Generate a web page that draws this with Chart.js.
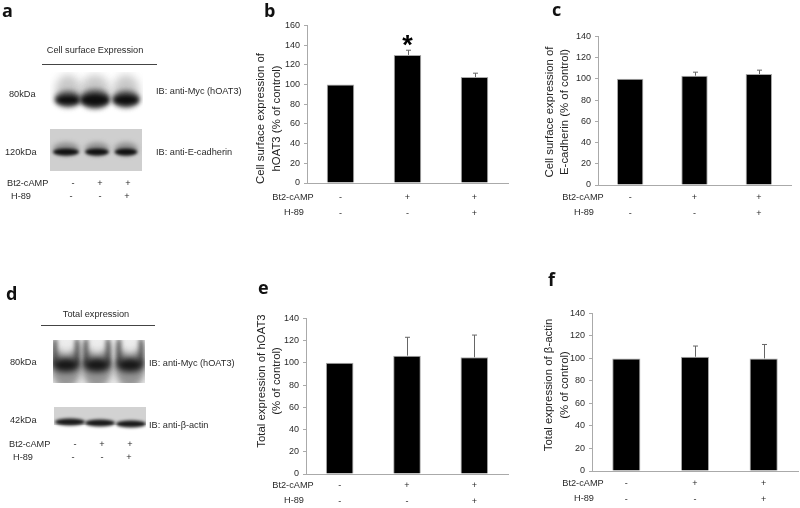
<!DOCTYPE html>
<html>
<head>
<meta charset="UTF-8">
<script src="https://cdn.jsdelivr.net/npm/chart.js@4/dist/chart.umd.js"></script>
<style>
html, body { margin: 0; padding: 0; background: #fff; }
#page { position: relative; width: 800px; height: 508px; overflow: hidden; font-family: "Liberation Sans", sans-serif; color: #2a2a2a; filter: blur(0.3px); }
#page canvas { position: absolute; }
.t { position: absolute; font-size: 9.2px; line-height: 12px; white-space: nowrap; transform: translateY(-50%); }
.c { transform: translate(-50%, -50%); }
.letter { position: absolute; font-family: "Open Sans", sans-serif; font-weight: 700; font-size: 18px; line-height: 20px; color: #111; transform: translateY(-50%); }
.rule { position: absolute; height: 1px; background: #444; }
</style>
</head>
<body>
<div id="page">
<canvas id="blots" width="260" height="508" style="left:0;top:0"></canvas>
<div class="rule" style="left:42px;top:64px;width:115px"></div>
<div class="rule" style="left:41px;top:325px;width:114px"></div>
</div>

<script>
// bar data
const bt2Row = ['-', '+', '+'];
const h89Row = ['-', '-', '+'];

const surfaceOat3 = [100, 130, 107.5];
const surfaceOat3Top = [100, 134.8, 111.5];
const surfaceCad = [100, 103, 104.5];
const surfaceCadTop = [100, 106.3, 108.2];
const totalOat3 = [100, 106.5, 105];
const totalOat3Top = [100, 123, 125];
const totalActin = [100, 101.5, 100];
const totalActinTop = [100, 111, 112.4];

const starMarks = ['', '*', ''];
const noMarks = ['', '', ''];

const page = document.getElementById('page');

// small text for the blot panels
function txt(s, x, y, centered) {
	var d = document.createElement('div');
	d.className = centered ? 't c' : 't';
	d.style.left = x + 'px';
	d.style.top = y + 'px';
	d.textContent = s;
	page.appendChild(d);
}
function letter(s, x, y) {
	var d = document.createElement('div');
	d.className = 'letter';
	d.style.left = x + 'px';
	d.style.top = y + 'px';
	d.textContent = s;
	page.appendChild(d);
}

letter('a', 2, 10);
letter('b', 264, 10);
letter('c', 552, 9);
letter('d', 6, 293);
letter('e', 258, 287);
letter('f', 548, 279);

txt('Cell surface Expression', 95, 50, true);
txt('80kDa', 9, 94);
txt('120kDa', 5, 152);
txt('IB: anti-Myc (hOAT3)', 156, 91);
txt('IB: anti-E-cadherin', 156, 152);
txt('Bt2-cAMP', 7, 183);
txt('H-89', 11, 196);
[73, 100, 128].forEach(function(x, i) { txt(bt2Row[i], x, 183, true); });
[71, 100, 127].forEach(function(x, i) { txt(h89Row[i], x, 196, true); });

txt('Total expression', 96, 314, true);
txt('80kDa', 10, 362);
txt('42kDa', 10, 420);
txt('IB: anti-Myc (hOAT3)', 149, 362.5);
txt('IB: anti-β-actin', 149, 424.5);
txt('Bt2-cAMP', 9, 444);
txt('H-89', 13, 457);
[75, 102, 130].forEach(function(x, i) { txt(bt2Row[i], x, 444, true); });
[73, 102, 129].forEach(function(x, i) { txt(h89Row[i], x, 457, true); });

// western blot images, only a rough painting of them
const b = document.getElementById('blots').getContext('2d');
function blob(cx, cy, w, h, col, blur) {
	b.save();
	b.filter = 'blur(' + blur + 'px)';
	b.fillStyle = col;
	b.beginPath();
	b.ellipse(cx, cy, w / 2, h / 2, 0, 0, Math.PI * 2);
	b.fill();
	b.restore();
}
function clipRect(x, y, w, h, fn) {
	b.save();
	b.beginPath();
	b.rect(x, y, w, h);
	b.clip();
	fn();
	b.restore();
}

clipRect(50, 72, 93, 48, function() {
	[[68, 27, 9], [95, 31, 12], [126, 28, 10]].forEach(function(l) {
		blob(l[0], 90, l[1] - 2, 30, 'rgba(110,110,110,0.38)', 4);
		blob(l[0], 99, l[1], l[2] + 8, 'rgba(60,60,60,0.75)', 2.5);
		blob(l[0], 100, l[1] - 3, l[2], 'rgba(10,10,10,0.95)', 2.2);
	});
});

b.fillStyle = '#cfcfcf';
b.fillRect(50, 129, 92, 42);
clipRect(50, 129, 92, 42, function() {
	[[66, 26, 7], [97, 24, 7], [126, 23, 7]].forEach(function(l) {
		blob(l[0], 149, l[1], 13, 'rgba(90,90,90,0.55)', 2.5);
		blob(l[0], 152, l[1], l[2], 'rgba(10,10,10,0.95)', 1.5);
	});
});

clipRect(53, 340, 92, 43, function() {
	b.fillStyle = '#ececec';
	b.fillRect(53, 340, 92, 43);
	[66, 97, 130].forEach(function(x) {
		blob(x, 368, 30, 40, 'rgba(90,90,90,0.6)', 3);
		blob(x - 11, 352, 7, 28, 'rgba(50,50,50,0.7)', 2.2);
		blob(x + 11, 352, 7, 28, 'rgba(50,50,50,0.7)', 2.2);
		blob(x, 365, 27, 14, 'rgba(15,15,15,0.95)', 3);
		blob(x, 347, 13, 14, 'rgba(240,240,240,0.75)', 3);
	});
});

clipRect(54, 407, 92, 28, function() {
	b.fillStyle = '#d2d2d2';
	b.fillRect(54, 407, 92, 18);
	blob(100, 433, 110, 12, '#ffffff', 3);
	[[70, 422], [100, 423], [131, 424]].forEach(function(l) {
		blob(l[0], l[1], 30, 7, 'rgba(15,15,15,0.95)', 1.7);
	});
});

// error bars, star, row names and y titles (the titles sit off-centre in the figure)
const extras = {
	id: 'extras',
	afterDatasetsDraw(chart, args, opts) {
		const ctx = chart.ctx, x = chart.scales.x, y = chart.scales.y;
		ctx.save();
		ctx.strokeStyle = '#666';
		ctx.lineWidth = 1;
		opts.tops.forEach(function(top, i) {
			if (top <= chart.data.datasets[0].data[i]) return;
			const px = Math.round(x.getPixelForValue(i)) + 0.5;
			ctx.beginPath();
			ctx.moveTo(px, y.getPixelForValue(chart.data.datasets[0].data[i]));
			ctx.lineTo(px, y.getPixelForValue(top));
			ctx.moveTo(px - 2.5, y.getPixelForValue(top));
			ctx.lineTo(px + 2.5, y.getPixelForValue(top));
			ctx.stroke();
		});
		ctx.fillStyle = '#000';
		ctx.textAlign = 'center';
		ctx.font = 'bold 27px "Liberation Sans"';
		opts.marks.forEach(function(m, i) {
			if (m) ctx.fillText(m, x.getPixelForValue(i), y.getPixelForValue(opts.tops[i]) + 4);
		});
		ctx.fillStyle = '#2a2a2a';
		ctx.font = '9.2px "Liberation Sans"';
		ctx.textBaseline = 'middle';
		ctx.fillText('Bt2-cAMP', x.left + opts.rowX, x.top + opts.rowY);
		ctx.fillText('H-89', x.left + opts.rowX + 1, x.top + opts.rowY + 15.5);
		ctx.fillStyle = '#222';
		ctx.font = '11.4px "Liberation Sans"';
		opts.title.forEach(function(line, i) {
			ctx.save();
			ctx.translate(opts.titleX + i * opts.titleGap, opts.titleY);
			ctx.rotate(-Math.PI / 2);
			ctx.fillText(line, 0, 0);
			ctx.restore();
		});
		ctx.restore();
	}
};

function drawBars(cfg) {
	const axisW = cfg.left - cfg.boxLeft, padTop = 8, axisH = 36;
	const c = document.createElement('canvas');
	c.width = axisW + cfg.right - cfg.left + 2;
	c.height = cfg.bottom - cfg.top + padTop + axisH;
	c.style.left = cfg.boxLeft + 'px';
	c.style.top = (cfg.top - padTop) + 'px';
	page.appendChild(c);
	return new Chart(c, {
		type: 'bar',
		data: {
			labels: bt2Row.map(function(v, i) { return [v, h89Row[i]]; }),
			datasets: [{
				data: cfg.values,
				backgroundColor: '#000',
				borderColor: '#aaa',
				borderWidth: 1,
				barPercentage: 0.41,
				categoryPercentage: 1
			}]
		},
		options: {
			responsive: false,
			animation: false,
			layout: { padding: { top: padTop, right: 2, left: 0, bottom: 0 } },
			plugins: {
				legend: { display: false },
				tooltip: { enabled: false },
				extras: {
					tops: cfg.tops, marks: cfg.marks, rowX: cfg.rowX, rowY: cfg.rowY,
					title: cfg.title,
					titleX: cfg.titleX - cfg.boxLeft,
					titleY: cfg.titleY - cfg.top + padTop,
					titleGap: cfg.titleGap
				}
			},
			scales: {
				x: {
					afterFit: function(s) { s.height = axisH; },
					grid: { display: false, drawTicks: false },
					border: { color: '#aaa' },
					ticks: { color: '#2a2a2a', padding: cfg.rowY - 7, maxRotation: 0, autoSkip: false, font: { family: 'Liberation Sans', size: 9, lineHeight: 1.72 } }
				},
				y: {
					min: 0,
					max: cfg.max,
					afterFit: function(s) { s.width = axisW; },
					grid: { drawOnChartArea: false, tickLength: 3, color: '#aaa' },
					border: { color: '#aaa' },
					ticks: { stepSize: 20, color: '#2a2a2a', padding: 4, font: { family: 'Liberation Sans', size: 9 } }
				}
			}
		},
		plugins: [extras]
	});
}

drawBars({ values: surfaceOat3, tops: surfaceOat3Top, marks: starMarks, max: 160,
	title: ['Cell surface expression of', 'hOAT3 (% of control)'],
	titleX: 261, titleY: 118.5, titleGap: 16,
	boxLeft: 254, left: 307, right: 508, top: 24, bottom: 183, rowX: -14, rowY: 14 });
drawBars({ values: surfaceCad, tops: surfaceCadTop, marks: noMarks, max: 140,
	title: ['Cell surface expression of', 'E-cadherin (% of control)'],
	titleX: 550, titleY: 112, titleGap: 14.5,
	boxLeft: 542, left: 598, right: 791, top: 35, bottom: 185, rowX: -15, rowY: 12 });
drawBars({ values: totalOat3, tops: totalOat3Top, marks: noMarks, max: 140,
	title: ['Total expression of hOAT3', '(% of control)'],
	titleX: 262, titleY: 381, titleGap: 14.5,
	boxLeft: 254, left: 306, right: 508, top: 317, bottom: 474, rowX: -13, rowY: 11 });
drawBars({ values: totalActin, tops: totalActinTop, marks: noMarks, max: 140,
	title: ['Total expression of β-actin', '(% of control)'],
	titleX: 549, titleY: 385, titleGap: 16,
	boxLeft: 541, left: 592, right: 798, top: 312, bottom: 471, rowX: -9, rowY: 12 });
</script>
</body>
</html>
